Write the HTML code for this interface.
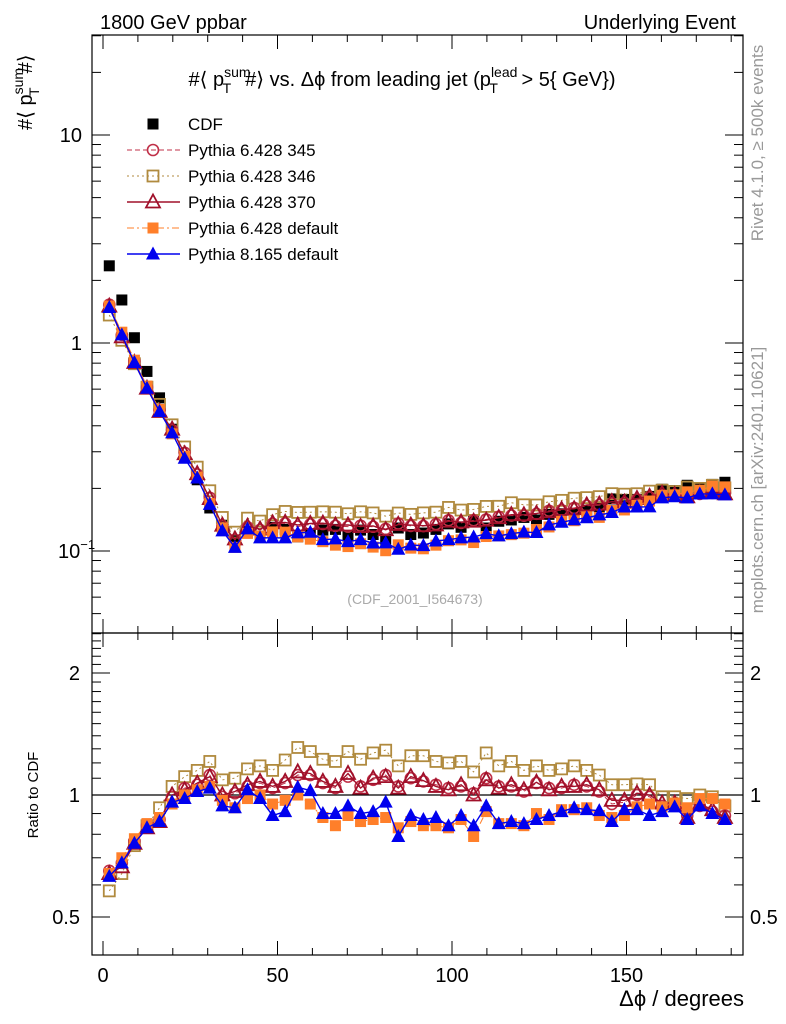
<!DOCTYPE html>
<html><head><meta charset="utf-8"><style>
body{margin:0;background:#fff;}
svg{display:block;font-family:"Liberation Sans",sans-serif;}
</style></head><body>
<svg id="c" width="786" height="1024" viewBox="0 0 786 1024">
<text x="100" y="29" font-size="20">1800 GeV ppbar</text>
<text x="736" y="29" font-size="20" text-anchor="end">Underlying Event</text>
<text x="402" y="86" font-size="20" text-anchor="middle">#⟨ p<tspan font-size="14" dy="-9">sum</tspan><tspan font-size="14" dx="-28" dy="16">T</tspan><tspan dy="-7" dx="14">#⟩ vs. Δϕ from leading jet  (p</tspan><tspan font-size="14" dy="-9">lead</tspan><tspan font-size="14" dx="-28" dy="16">T</tspan><tspan dy="-7" dx="18"> &gt; 5{ GeV})</tspan></text>
<text transform="translate(32,130) rotate(-90)" font-size="20">#⟨ p<tspan font-size="14" dy="-9">sum</tspan><tspan font-size="14" dx="-28" dy="16">T</tspan><tspan dy="-7" dx="14">#⟩</tspan></text>
<text transform="translate(38,795) rotate(-90)" font-size="15" text-anchor="middle">Ratio to CDF</text>
<text x="744" y="1006" font-size="22" text-anchor="end">Δϕ / degrees</text>
<text transform="translate(763,143) rotate(-90)" font-size="17" fill="#999" text-anchor="middle">Rivet 4.1.0, ≥ 500k events</text>
<text transform="translate(763,480) rotate(-90)" font-size="17" fill="#999" text-anchor="middle">mcplots.cern.ch [arXiv:2401.10621]</text>
<text x="415" y="604" font-size="14" fill="#aaa" text-anchor="middle">(CDF_2001_I564673)</text>
<g id="axes"></g><g id="marks"></g><g id="legend"></g>
</svg>
<script>
const cdf=[2.35,1.61,1.06,0.73,0.545,0.385,0.285,0.22,0.161,0.133,0.112,0.124,0.118,0.13,0.127,0.117,0.12,0.126,0.127,0.118,0.126,0.12,0.114,0.129,0.12,0.122,0.127,0.135,0.13,0.139,0.129,0.139,0.141,0.145,0.141,0.15,0.151,0.152,0.157,0.163,0.178,0.177,0.177,0.183,0.198,0.195,0.207,0.2,0.209,0.214];
const rP8=[0.63,0.68,0.76,0.83,0.86,0.96,0.98,1.02,1.04,0.94,0.93,1.03,0.98,0.89,0.91,1.045,1.025,0.9,0.9,0.94,0.9,0.91,0.96,0.79,0.89,0.87,0.88,0.84,0.89,0.84,0.94,0.85,0.86,0.85,0.87,0.89,0.91,0.93,0.92,0.915,0.86,0.92,0.92,0.89,0.91,0.935,0.87,0.94,0.9,0.87];
const rP6def=[0.64,0.7,0.78,0.85,0.88,0.95,1.0,1.03,1.05,0.97,0.93,0.98,1.0,0.95,0.97,1.0,0.95,0.88,0.84,0.89,0.86,0.87,0.88,0.83,0.86,0.84,0.84,0.83,0.87,0.79,0.91,0.85,0.85,0.84,0.9,0.87,0.92,0.92,0.93,0.89,0.88,0.89,0.935,0.95,0.935,0.955,0.93,0.98,0.98,0.95];
const r370=[0.64,0.665,0.76,0.83,0.86,1.0,1.03,1.07,1.11,1.0,1.02,1.06,1.08,1.05,1.08,1.14,1.13,1.08,1.05,1.13,1.04,1.1,1.11,1.04,1.11,1.085,1.05,1.03,1.06,1.0,1.09,1.04,1.06,1.03,1.075,1.03,1.05,1.05,1.06,1.03,0.97,0.97,1.01,1.0,0.955,0.955,0.88,0.95,0.92,0.88];
const r345=[0.65,0.68,0.77,0.84,0.87,0.99,1.04,1.06,1.12,0.99,1.01,1.05,1.07,1.04,1.07,1.12,1.12,1.07,1.04,1.11,1.05,1.09,1.12,1.05,1.1,1.08,1.06,1.04,1.05,1.01,1.1,1.05,1.05,1.02,1.07,1.04,1.04,1.06,1.05,1.02,0.95,0.96,1.0,0.99,0.94,0.95,0.89,0.94,0.91,0.89];
const r346=[0.58,0.64,0.75,0.84,0.93,1.05,1.11,1.15,1.21,1.09,1.1,1.16,1.18,1.15,1.22,1.31,1.28,1.225,1.21,1.28,1.225,1.27,1.29,1.18,1.25,1.25,1.21,1.2,1.21,1.14,1.27,1.18,1.21,1.15,1.18,1.15,1.16,1.18,1.15,1.12,1.06,1.06,1.065,1.06,0.99,0.99,0.98,1.0,0.99,0.94];
const xTicks=[0,50,100,150];
const mainTickLabels=["10","1"];
const ratioTicks=[0.5,1,2];

const NS="http://www.w3.org/2000/svg";
const L=92,R=743,MT=35,MB=633,RT=633,RB=955;
const xs=v=>103+3.49*v;
const ym=v=>343-208*Math.log10(v);
const yr=r=>795-122*Math.log2(r);
const binC=i=>1.8+3.6*i;
function mk(tag,attrs,parent){const e=document.createElementNS(NS,tag);for(const k in attrs)e.setAttribute(k,attrs[k]);parent.appendChild(e);return e;}
const ax=document.getElementById('axes'),mg=document.getElementById('marks'),lg=document.getElementById('legend');

let f1=mk('rect',{x:L,y:MT,width:R-L,height:MB-MT,fill:'none',stroke:'#000','stroke-width':1.2},ax);


let f2=mk('rect',{x:L,y:RT,width:R-L,height:RB-RT,fill:'none',stroke:'#000','stroke-width':1.2},ax);


function tick(x1,y1,x2,y2){const t=mk('line',{x1,y1,x2,y2,stroke:'#000','stroke-width':1},ax);

}
for(let v=0;v<=180;v+=10){const x=xs(v);const len=(v%50===0)?14:7;
 tick(x,RB,x,RB-len);tick(x,RT,x,RT+len);tick(x,MB,x,MB-len);tick(x,MT,x,MT+len);}
xTicks.forEach(v=>{const t=mk('text',{x:xs(v),y:982,'font-size':20,'text-anchor':'middle'},ax);t.textContent=v;

});
for(let d=-2;d<=1;d++){for(let m=1;m<=9;m++){const v=m*Math.pow(10,d);const y=ym(v);if(y<MT||y>MB)continue;const len=m===1?18:9;tick(L,y,L+len,y);tick(R,y,R-len,y);}}
[[10,mainTickLabels[0]],[1,mainTickLabels[1]]].forEach(([v,s])=>{const t=mk('text',{x:82,y:ym(v)+7,'font-size':20,'text-anchor':'end'},ax);t.textContent=s;

});
let t01=mk('text',{x:58,y:ym(0.1)+7,'font-size':20},ax);t01.innerHTML='10<tspan font-size="13" dy="-9">−1</tspan>';


const rmin=[0.4,0.6,0.7,0.8,0.9,1.1,1.2,1.3,1.4,1.5,1.6,1.7,1.8,1.9,2.1,2.2,2.3,2.4,2.5];
rmin.forEach(r=>{const y=yr(r);if(y<RT||y>RB)return;tick(L,y,L+9,y);tick(R,y,R-9,y);});
ratioTicks.forEach(r=>{const y=yr(r);tick(L,y,L+18,y);tick(R,y,R-18,y);
 const s=String(r);
 const a=mk('text',{x:80,y:y+7,'font-size':20,'text-anchor':'end'},ax);a.textContent=s;
 
 
 const b=mk('text',{x:750,y:y+7,'font-size':20},ax);b.textContent=s;
 
 });
let one=mk('line',{x1:L,x2:R,y1:yr(1),y2:yr(1),stroke:'#000','stroke-width':1.2},ax);



function marker(type,color,x,y,parent){
 let e;
 if(type==='fsq')e=mk('rect',{x:x-5.5,y:y-5.5,width:11,height:11,fill:color},parent);
 else if(type==='osq')e=mk('rect',{x:x-5.5,y:y-5.5,width:11,height:11,fill:'none',stroke:color,'stroke-width':1.8},parent);
 else if(type==='oci')e=mk('circle',{cx:x,cy:y,r:5.5,fill:'none',stroke:color,'stroke-width':1.6},parent);
 else if(type==='otr')e=mk('path',{d:`M${x} ${y-7.5}L${x+7} ${y+5.5}L${x-7} ${y+5.5}Z`,fill:'none',stroke:color,'stroke-width':1.8},parent);
 else e=mk('path',{d:`M${x} ${y-7.5}L${x+7} ${y+5.5}L${x-7} ${y+5.5}Z`,fill:color},parent);
 return e;}
const series=[
 {name:'pythia-6428-346',ratio:r346,color:'#b08a3e',dash:'2,3',m:'osq',w:1},
 {name:'pythia-6428-345',ratio:r345,color:'#c03048',dash:'5,3',m:'oci',w:1},
 {name:'pythia-6428-370',ratio:r370,color:'#a0102a',dash:'',m:'otr',w:1.4},
 {name:'pythia-6428-default',ratio:rP6def,color:'#ff7f2a',dash:'7,3,2,3',m:'fsq',w:1},
 {name:'pythia-8165-default',ratio:rP8,color:'#0000ee',dash:'',m:'ftr',w:1.4}];
function clipY(y,lo,hi){return Math.max(lo,Math.min(hi,y));}
cdf.forEach((v,i)=>{const e=marker('fsq','#000',xs(binC(i)),ym(v),mg);
 
 });
series.forEach(s=>{
 const mainPts=s.ratio.map((r,i)=>[xs(binC(i)),ym(r*cdf[i])]);
 const ratPts=s.ratio.map((r,i)=>[xs(binC(i)),clipY(yr(r),RT,RB)]);
 [mainPts,ratPts].forEach((pts,k)=>{
  const pl=mk('polyline',{points:pts.map(p=>p.join(',')).join(' '),fill:'none',stroke:s.color,'stroke-width':s.w,'stroke-dasharray':s.dash},mg);
  
  
  pts.forEach(p=>{const e=marker(s.m,s.color,p[0],p[1],mg);
   
   });
 });
});
const legItems=[
 {label:'CDF',m:'fsq',color:'#000',dash:null,w:1},
 {label:'Pythia 6.428 345',m:'oci',color:'#c03048',dash:'5,3',w:1},
 {label:'Pythia 6.428 346',m:'osq',color:'#b08a3e',dash:'2,3',w:1},
 {label:'Pythia 6.428 370',m:'otr',color:'#a0102a',dash:'',w:1.4},
 {label:'Pythia 6.428 default',m:'fsq',color:'#ff7f2a',dash:'7,3,2,3',w:1},
 {label:'Pythia 8.165 default',m:'ftr',color:'#0000ee',dash:'',w:1.4}];
legItems.forEach((it,i)=>{
 const y=124+26*i;
 const g=mk('g',{},lg);
 
 
 if(it.dash!==null)mk('line',{x1:127,x2:180,y1:y,y2:y,stroke:it.color,'stroke-width':it.w,'stroke-dasharray':it.dash},g);
 marker(it.m,it.color,153,y,g);
 const t=mk('text',{x:188,y:y+6,'font-size':17},g);t.textContent=it.label;
});
</script>
</body></html>
